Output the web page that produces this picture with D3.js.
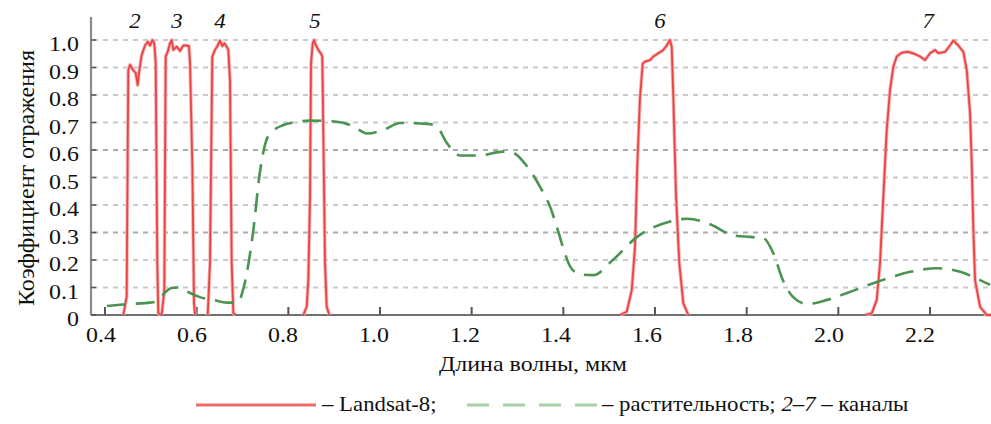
<!DOCTYPE html>
<html><head><meta charset="utf-8">
<script src="https://cdn.jsdelivr.net/npm/d3@7"></script>
<style>
html,body{margin:0;padding:0;background:#fff;}
svg{display:block;}
svg text{font-family:"Liberation Serif", serif !important;}
</style></head>
<body>
<svg id="chart" width="991" height="424"></svg>
<script>
// ---- data ----
const xTicks = [0.4, 0.6, 0.8, 1.0, 1.2, 1.4, 1.6, 1.8, 2.0, 2.2];
const xTickLabels = ["0.4","0.6","0.8","1.0","1.2","1.4","1.6","1.8","2.0","2.2"];
const yTicks = [0, 0.1, 0.2, 0.3, 0.4, 0.5, 0.6, 0.7, 0.8, 0.9, 1.0];
const yTickLabels = ["0","0.1","0.2","0.3","0.4","0.5","0.6","0.7","0.8","0.9","1.0"];
const bandNames = ["2","3","4","5","6","7"];
const bandLabelWl = [0.4655, 0.557, 0.651, 0.858, 1.611, 2.196];

const band2 = [[0.440,0],[0.4473,0.067],[0.4508,0.89],[0.4545,0.91],[0.4617,0.89],[0.467,0.88],[0.4713,0.836],[0.4742,0.88],[0.480,0.945],[0.4873,0.98],[0.4932,0.994],[0.4982,0.98],[0.5032,1.0],[0.5076,0.988],[0.5106,0.916],[0.5141,0.19],[0.5163,0.007],[0.5222,0]];
const band3 = [[0.5237,0],[0.5294,0.09],[0.5324,0.94],[0.5368,0.957],[0.5418,0.988],[0.5455,1.0],[0.549,0.964],[0.5564,0.976],[0.5636,0.96],[0.5708,0.98],[0.5783,0.98],[0.5833,0.978],[0.5855,0.915],[0.5905,0.55],[0.5942,0.044],[0.5964,0]];
const band4 = [[0.6241,0],[0.6291,0.19],[0.6341,0.94],[0.640,0.964],[0.6459,0.98],[0.6509,0.998],[0.6559,0.978],[0.6603,0.988],[0.6655,0.976],[0.669,0.964],[0.6727,0.855],[0.6764,0.19],[0.680,0.007],[0.6852,0]];
const band5 = [[0.8327,0],[0.8401,0.03],[0.8436,0.127],[0.8473,0.43],[0.8495,0.915],[0.8532,0.988],[0.856,1.0],[0.8604,0.98],[0.8654,0.964],[0.8707,0.952],[0.8741,0.94],[0.8763,0.67],[0.880,0.19],[0.8837,0.03],[0.8894,0]];
const band6 = [[1.5237,0],[1.5383,0.012],[1.5492,0.09],[1.5564,0.248],[1.5615,0.55],[1.5673,0.79],[1.5732,0.915],[1.5782,0.921],[1.5891,0.927],[1.5964,0.94],[1.6073,0.952],[1.6182,0.964],[1.6256,0.98],[1.6328,1.0],[1.6365,0.976],[1.640,0.79],[1.6459,0.43],[1.6531,0.188],[1.6618,0.042],[1.6727,0]];
const band7 = [[2.0583,0],[2.0729,0.006],[2.0838,0.055],[2.091,0.188],[2.0982,0.43],[2.1056,0.673],[2.1128,0.818],[2.12,0.903],[2.1274,0.94],[2.1384,0.954],[2.1528,0.957],[2.1674,0.949],[2.1783,0.94],[2.1892,0.927],[2.2001,0.952],[2.211,0.964],[2.2182,0.952],[2.2328,0.957],[2.2437,0.98],[2.2509,0.998],[2.2618,0.98],[2.2728,0.957],[2.2802,0.89],[2.2874,0.733],[2.2911,0.55],[2.2946,0.31],[2.2983,0.127],[2.3092,0.03],[2.3238,0],[2.3332,0]];
const landsatBands = [band2, band3, band4, band5, band6, band7];

const vegWl  = [0.404,0.4545,0.498,0.513,0.530,0.545,0.557,0.579,0.607,0.636,0.666,0.690,0.701,0.723,0.738,0.753,0.767,0.788,0.81,0.847,0.906,0.941,0.972,1.007,1.044,1.103,1.124,1.146,1.175,1.218,1.268,1.29,1.321,1.349,1.371,1.386,1.399,1.415,1.436,1.465,1.508,1.561,1.633,1.67,1.72,1.77,1.807,1.836,1.858,1.879,1.901,1.932,1.975,2.019,2.084,2.157,2.215,2.266,2.309,2.331];
const vegVal = [0.033,0.04,0.045,0.05,0.08,0.098,0.10,0.085,0.065,0.055,0.045,0.045,0.09,0.30,0.52,0.64,0.67,0.69,0.70,0.707,0.703,0.687,0.66,0.673,0.698,0.695,0.685,0.625,0.58,0.58,0.594,0.59,0.54,0.467,0.394,0.32,0.248,0.176,0.148,0.145,0.20,0.284,0.34,0.35,0.33,0.29,0.284,0.28,0.225,0.127,0.066,0.04,0.055,0.08,0.12,0.157,0.17,0.157,0.127,0.11];

// ---- layout ----
const FONT = "Liberation Serif";
const svg = d3.select("#chart");
const pLeft = 91, pRight = 991, pTop = 17, pBottom = 315;
const x = d3.scaleLinear().domain([0.4, 2.2]).range([105, 930]);
const xLab = d3.scaleLinear().domain([0.4, 2.2]).range([101, 920]);
const y = d3.scaleLinear().domain([0, 1]).range([315, 40]);
const SX = 1.14;

function txt(g, px, py, s, anchor, size, italic) {
  return g.append("text")
    .attr("transform", `translate(${px},${py}) scale(${SX},1)`)
    .attr("text-anchor", anchor || "start")
    .attr("font-family", FONT)
    .style("font-family", FONT)
    .attr("fill", "#111")
    .attr("font-size", size || 21)
    .style("font-style", italic ? "italic" : "normal")
    .text(s);
}

svg.append("defs").append("clipPath").attr("id", "plotclip")
  .append("rect").attr("x", pLeft).attr("y", 0).attr("width", pRight - pLeft).attr("height", pBottom + 2);

// gridlines
svg.append("g").selectAll("line").data(yTicks.filter(d => d > 0)).join("line")
  .attr("x1", pLeft + 2).attr("x2", pRight)
  .attr("y1", d => y(d)).attr("y2", d => y(d))
  .attr("stroke", d => (Math.abs(d - 0.3) < 1e-6 || Math.abs(d - 0.6) < 1e-6) ? "#ababab" : "#c9c9c9")
  .attr("stroke-width", 2)
  .attr("stroke-dasharray", "5,5");

// axes lines
svg.append("line").attr("x1", pLeft).attr("x2", pLeft).attr("y1", pTop).attr("y2", pBottom)
  .attr("stroke", "#8a8a8a").attr("stroke-width", 2.2);
svg.append("line").attr("x1", pLeft).attr("x2", pRight).attr("y1", pBottom).attr("y2", pBottom)
  .attr("stroke", "#707070").attr("stroke-width", 2.2);

// ticks
svg.append("g").selectAll("line").data(yTicks).join("line")
  .attr("x1", pLeft).attr("x2", pLeft + 5).attr("y1", d => y(d)).attr("y2", d => y(d))
  .attr("stroke", "#555").attr("stroke-width", 1.5);
svg.append("g").selectAll("line").data(xTicks).join("line")
  .attr("x1", d => x(d)).attr("x2", d => x(d)).attr("y1", pBottom).attr("y2", pBottom - 8)
  .attr("stroke", "#555").attr("stroke-width", 2);

// tick labels
const gl = svg.append("g");
yTicks.forEach((d, i) => txt(gl, 79, y(d) + 11, yTickLabels[i], "end", 21));
xTicks.forEach((d, i) => txt(gl, xLab(d), 342, xTickLabels[i], "middle", 21));

// axis titles
txt(gl, 533, 371, "Длина волны, мкм", "middle", 21);
gl.append("text")
  .attr("transform", `translate(34,178) rotate(-90)`)
  .attr("text-anchor", "middle").attr("font-size", 23)
  .attr("font-family", FONT).style("font-family", FONT).attr("fill", "#111")
  .attr("textLength", 256).attr("lengthAdjust", "spacingAndGlyphs")
  .text("Коэффициент отражения");

// band labels
bandNames.forEach((n, i) => txt(gl, x(bandLabelWl[i]), 28, n, "middle", 20, true));

// data
const plot = svg.append("g").attr("clip-path", "url(#plotclip)");
const redLine = d3.line().x(d => x(d[0])).y(d => y(d[1])).curve(d3.curveLinear);
plot.selectAll("path.halo").data(landsatBands).join("path").attr("class", "halo")
  .attr("d", redLine).attr("fill", "none").attr("stroke", "#f7b3b3").attr("stroke-width", 3.6)
  .attr("stroke-linejoin", "round");
plot.selectAll("path.band").data(landsatBands).join("path").attr("class", "band")
  .attr("d", redLine).attr("fill", "none").attr("stroke", "#ea4343").attr("stroke-width", 1.8)
  .attr("stroke-linejoin", "round");

const veg = vegWl.map((w, i) => [w, vegVal[i]]);
const greenLine = d3.line().x(d => x(d[0])).y(d => y(d[1])).curve(d3.curveMonotoneX);
plot.append("path").attr("d", greenLine(veg)).attr("fill", "none")
  .attr("stroke", "#4a9350").attr("stroke-width", 2.6)
  .attr("stroke-dasharray", "19,10").attr("stroke-linecap", "butt");

// legend
const lg = svg.append("g");
lg.append("line").attr("x1", 196).attr("x2", 316).attr("y1", 405).attr("y2", 405)
  .attr("stroke", "#ec6a6a").attr("stroke-width", 3);
txt(lg, 322, 411, "– Landsat-8;", "start", 20);
lg.append("line").attr("x1", 467).attr("x2", 597).attr("y1", 405).attr("y2", 405)
  .attr("stroke", "#a8cfa8").attr("stroke-width", 3).attr("stroke-dasharray", "22,14");
const t2 = lg.append("text")
  .attr("transform", `translate(602,411) scale(${SX},1)`)
  .attr("font-family", FONT).style("font-family", FONT).attr("fill", "#111")
  .attr("font-size", 20);
t2.append("tspan").text("– растительность;  ");
t2.append("tspan").style("font-style", "italic").text("2–7");
t2.append("tspan").text(" – каналы");
</script>
</body></html>
